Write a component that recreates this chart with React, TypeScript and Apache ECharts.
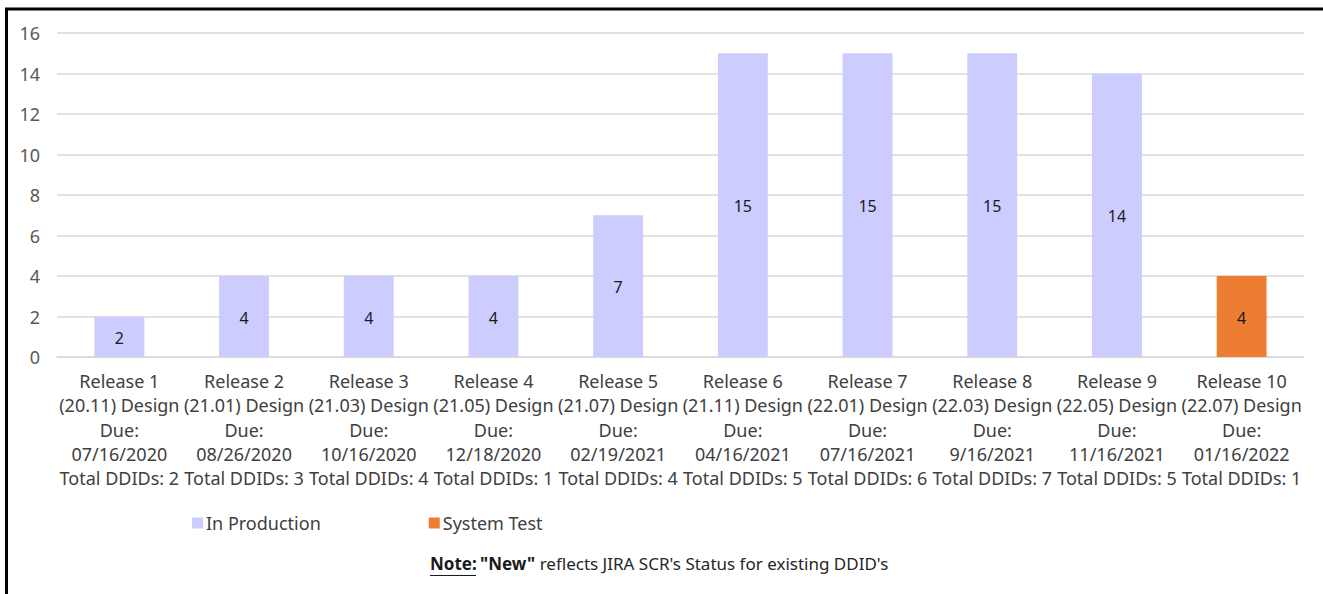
import React, { useEffect, useRef } from "react";
import * as echarts from "echarts";

const categories = [
  "Release 1\n(20.11) Design\nDue:\n07/16/2020\nTotal DDIDs: 2",
  "Release 2\n(21.01) Design\nDue:\n08/26/2020\nTotal DDIDs: 3",
  "Release 3\n(21.03) Design\nDue:\n10/16/2020\nTotal DDIDs: 4",
  "Release 4\n(21.05) Design\nDue:\n12/18/2020\nTotal DDIDs: 1",
  "Release 5\n(21.07) Design\nDue:\n02/19/2021\nTotal DDIDs: 4",
  "Release 6\n(21.11) Design\nDue:\n04/16/2021\nTotal DDIDs: 5",
  "Release 7\n(22.01) Design\nDue:\n07/16/2021\nTotal DDIDs: 6",
  "Release 8\n(22.03) Design\nDue:\n9/16/2021\nTotal DDIDs: 7",
  "Release 9\n(22.05) Design\nDue:\n11/16/2021\nTotal DDIDs: 5",
  "Release 10\n(22.07) Design\nDue:\n01/16/2022\nTotal DDIDs: 1",
];

const inProduction: (number | null)[] = [2, 4, 4, 4, 7, 15, 15, 15, 14, null];
const systemTest: (number | null)[] = [null, null, null, null, null, null, null, null, null, 4];

const seriesNames = ["In Production", "System Test"];
const noteText = "Note:";
const noteNew = "\"New\"";
const noteRest = " reflects JIRA SCR's Status for existing DDID's";

export default function App() {
  const ref = useRef<HTMLDivElement>(null);
  useEffect(() => {
    if (!ref.current) return;
    const chart = echarts.init(ref.current, null, { renderer: "svg" });
    const font = "'Noto Sans', sans-serif";
    chart.setOption({
      animation: false,
      backgroundColor: "#ffffff",
      grid: { left: 57, right: 19, top: 33, bottom: 237, containLabel: false },
      legend: {
        left: 187,
        top: 509,
        itemWidth: 11,
        itemHeight: 11,
        itemGap: 108,
        icon: "rect",
        textStyle: { fontFamily: font, fontSize: 18, color: "#404040", padding: [0, 0, 0, -2] },
        data: seriesNames,
      },
      xAxis: {
        type: "category",
        data: categories,
        axisLine: { show: true, lineStyle: { color: "#d9d9d9", width: 1.5 } },
        axisTick: { show: false },
        axisLabel: {
          interval: 0,
          hideOverlap: false,
          margin: 12,
          fontFamily: font,
          fontSize: 18,
          lineHeight: 24.3,
          color: "#404040",
        },
      },
      yAxis: {
        type: "value",
        min: 0,
        max: 16,
        interval: 2,
        axisLine: { show: false },
        axisTick: { show: false },
        splitLine: { lineStyle: { color: "#d9d9d9", width: 1.5 } },
        axisLabel: { margin: 17, fontFamily: font, fontSize: 18, color: "#595959" },
      },
      series: [
        {
          name: seriesNames[0],
          type: "bar",
          stack: "total",
          barWidth: "40%",
          data: inProduction,
          itemStyle: { color: "#ccccff" },
          label: { show: true, position: "inside", offset: [0, 1], fontFamily: font, fontSize: 16, color: "#1a1a1a" },
        },
        {
          name: seriesNames[1],
          type: "bar",
          stack: "total",
          barWidth: "40%",
          data: systemTest,
          itemStyle: { color: "#ed7d31" },
          label: { show: true, position: "inside", offset: [0, 1], fontFamily: font, fontSize: 16, color: "#1a1a1a" },
        },
      ],
      graphic: [
        {
          type: "rect",
          silent: true,
          shape: { x: 6.5, y: 9, width: 1500, height: 800 },
          style: { fill: "none", stroke: "#000000", lineWidth: 3 },
        },
        {
          type: "text",
          left: 430,
          top: 555,
          style: {
            text: "{b|" + noteText + "} {b|" + noteNew + "}{r|" + noteRest + "}",
            rich: {
              b: { fontFamily: font, fontSize: 17, fontWeight: "bold", fill: "#1a1a1a" },
              r: { fontFamily: font, fontSize: 17, fill: "#262626" },
            },
          },
        },
        {
          type: "line",
          silent: true,
          shape: { x1: 430, y1: 575.5, x2: 476, y2: 575.5 },
          style: { stroke: "#1a1a1a", lineWidth: 1 },
        },
      ],
    });
    return () => chart.dispose();
  }, []);
  return (
    <div style={{ position: "fixed", left: 0, top: 0, width: 1323, height: 594, background: "#fff" }}>
      <div ref={ref} style={{ width: 1323, height: 594 }} />
    </div>
  );
}
